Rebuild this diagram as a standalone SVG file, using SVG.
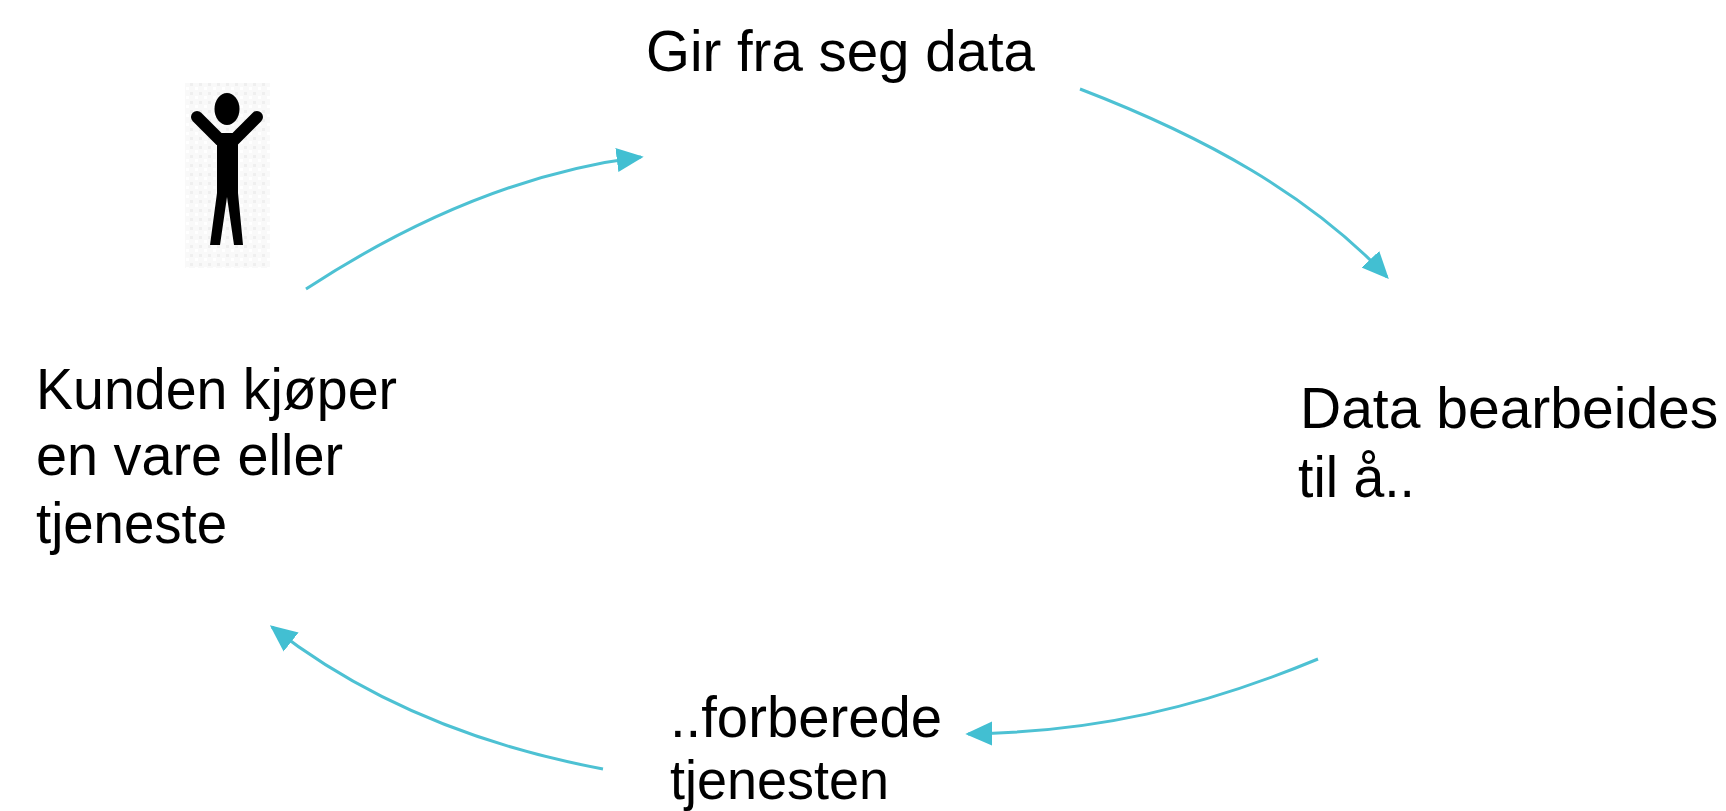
<svg xmlns="http://www.w3.org/2000/svg" width="1726" height="811" viewBox="0 0 1726 811">
<style>
.t{font-family:"Liberation Sans",Arial,sans-serif;font-size:57px;fill:#000}
.c{fill:none;stroke:#4dc1d3;stroke-width:3;marker-end:url(#a)}
</style>
<defs>
<marker id="a" viewBox="0 0 10 10" refX="9" refY="5" markerUnits="userSpaceOnUse" markerWidth="27" markerHeight="27" orient="auto"><path d="M0 0.500L10 5L0 9.500Z" fill="#42bfd2"/></marker>
<pattern id="d" width="9" height="9" patternUnits="userSpaceOnUse"><rect width="9" height="9" fill="#f9f9f9"/><rect x="1" y="2" width="3" height="3" fill="#efefef"/><rect x="6" y="6" width="3" height="3" fill="#fff"/></pattern>
</defs>
<rect width="1726" height="811" fill="#fff"/>
<g id="connectors">
<path class="c" d="M306 289C410 221 520 172 641 157"/>
<path class="c" d="M1080 89C1205 137 1310 195 1387 277"/>
<path class="c" d="M1318 659C1200 708 1095 732 968 734"/>
<path class="c" d="M603 769C475 745 365 700 272 627"/>
</g>
<g id="person">
<rect x="185" y="83" width="85" height="185" fill="url(#d)"/>
<ellipse cx="227" cy="109" rx="12.500" ry="16" fill="#000"/>
<path d="M197 117L219 139H235L257 117" fill="none" stroke="#000" stroke-width="12" stroke-linecap="round"/>
<path d="M217 134H238V193L243 245H234L227 197L220 245H210L217 193Z" fill="#000"/>
</g>
<g id="node-gir"><text class="t" x="646" y="71" textLength="389" lengthAdjust="spacingAndGlyphs">Gir fra seg data</text></g>
<g id="node-data"><text class="t" x="1300" y="428">Data bearbeides</text><text class="t" x="1298" y="497" textLength="117" lengthAdjust="spacingAndGlyphs">til å..</text></g>
<g id="node-forberede"><text class="t" x="670" y="737" textLength="272" lengthAdjust="spacingAndGlyphs">..forberede</text><text class="t" x="670" y="799" style="font-size:55px" textLength="219" lengthAdjust="spacingAndGlyphs">tjenesten</text></g>
<g id="node-kunden"><text class="t" x="36" y="409" textLength="361" lengthAdjust="spacingAndGlyphs">Kunden kjøper</text><text class="t" x="36" y="475" textLength="307" lengthAdjust="spacingAndGlyphs">en vare eller</text><text class="t" x="36" y="543" textLength="191" lengthAdjust="spacingAndGlyphs">tjeneste</text></g>
</svg>
